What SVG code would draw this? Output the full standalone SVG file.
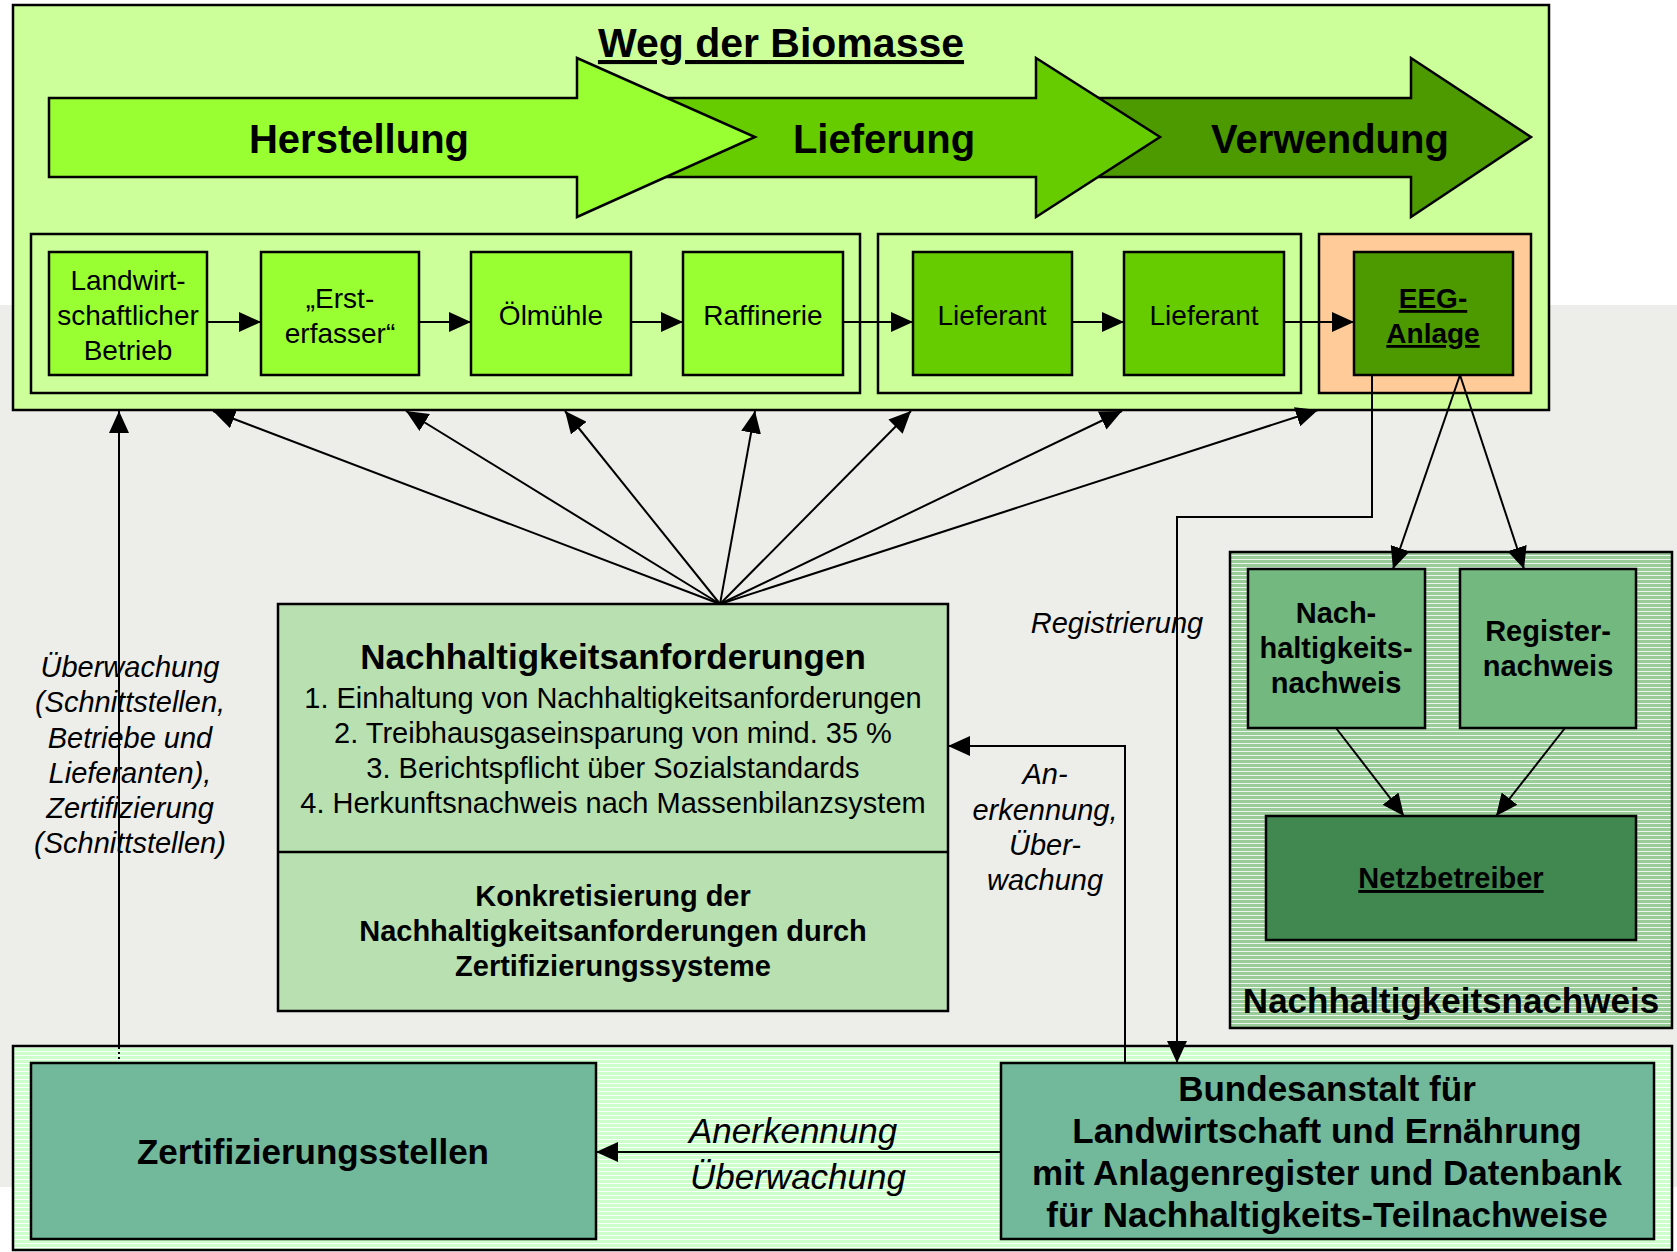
<svg xmlns="http://www.w3.org/2000/svg" width="1677" height="1252" viewBox="0 0 1677 1252">
<defs>
<style>
text{font-family:"Liberation Sans",Arial,Helvetica,sans-serif;fill:#000}
.bx{stroke:#000;stroke-width:2.5}
.c{text-anchor:middle}
.f28{font-size:28px}
.f29{font-size:29px}
.f35{font-size:35px}
.f40{font-size:40px}
.b{font-weight:bold}
.i{font-style:italic}
.u{text-decoration:underline}
.ln{fill:none;stroke:#000;stroke-width:2}
.ah{marker-end:url(#ah)}
.g1{fill:#99ff33}
.g2{fill:#66cc00}
.g3{fill:#4c9900}
.lg{fill:#ccff99}
</style>
<marker id="ah" markerUnits="userSpaceOnUse" markerWidth="22" markerHeight="20" refX="22" refY="10" orient="auto"><path d="M0,0 L22,10 L0,20 z" fill="#000"/></marker>
<pattern id="hatchA" width="8" height="4" patternUnits="userSpaceOnUse"><rect width="8" height="4" fill="#99cc99"/><rect y="3" width="8" height="1" fill="#ffffff" opacity="0.8"/></pattern>
<pattern id="hatchB" width="8" height="4" patternUnits="userSpaceOnUse"><rect width="8" height="4" fill="#ccffcc"/><rect y="3" width="8" height="1" fill="#ffffff" opacity="0.9"/></pattern>
</defs>

<rect x="0" y="0" width="1677" height="1252" fill="#ffffff"/>
<rect x="0" y="305" width="1677" height="882" fill="#ededea"/>

<g id="weg-der-biomasse">
<rect x="13" y="5" width="1536" height="405" class="bx lg"/>
<text x="781" y="57" class="c b u" style="font-size:41px">Weg der Biomasse</text>
</g>

<g id="phase-verwendung">
<path d="M1050,98 L1411,98 L1411,58 L1531,137 L1411,217 L1411,177 L1050,177 z" class="bx g3" stroke-width="2"/>
<text x="1330" y="153" class="c b f40">Verwendung</text>
</g>
<g id="phase-lieferung">
<path d="M600,98 L1036,98 L1036,58 L1160,137 L1036,217 L1036,177 L600,177 z" class="bx g2" stroke-width="2"/>
<text x="884" y="153" class="c b f40">Lieferung</text>
</g>
<g id="phase-herstellung">
<path d="M49,98 L577,98 L577,58 L755,137 L577,217 L577,177 L49,177 z" class="bx g1" stroke-width="2"/>
<text x="359" y="153" class="c b f40">Herstellung</text>
</g>

<g id="gruppe-herstellung"><rect x="31" y="234" width="829" height="159" class="bx lg"/></g>
<g id="gruppe-lieferung"><rect x="878" y="234" width="423" height="159" class="bx lg"/></g>
<g id="gruppe-verwendung"><rect x="1319" y="234" width="212" height="159" class="bx" fill="#ffcc99"/></g>

<g id="landwirtschaftlicher-betrieb">
<rect x="49" y="252" width="158" height="123" class="bx g1"/>
<text class="c f28"><tspan x="128" y="290">Landwirt-</tspan><tspan x="128" y="325">schaftlicher</tspan><tspan x="128" y="360">Betrieb</tspan></text>
</g>
<g id="ersterfasser">
<rect x="261" y="252" width="158" height="123" class="bx g1"/>
<text class="c f28"><tspan x="340" y="308">„Erst-</tspan><tspan x="340" y="343">erfasser“</tspan></text>
</g>
<g id="oelmuehle">
<rect x="471" y="252" width="160" height="123" class="bx g1"/>
<text x="551" y="325" class="c f28">Ölmühle</text>
</g>
<g id="raffinerie">
<rect x="683" y="252" width="160" height="123" class="bx g1"/>
<text x="763" y="325" class="c f28">Raffinerie</text>
</g>
<g id="lieferant-1">
<rect x="913" y="252" width="159" height="123" class="bx g2"/>
<text x="992" y="325" class="c f28">Lieferant</text>
</g>
<g id="lieferant-2">
<rect x="1124" y="252" width="160" height="123" class="bx g2"/>
<text x="1204" y="325" class="c f28">Lieferant</text>
</g>
<g id="eeg-anlage">
<rect x="1354" y="252" width="159" height="123" class="bx g3"/>
<text class="c b u f28"><tspan x="1433" y="308">EEG-</tspan><tspan x="1433" y="343">Anlage</tspan></text>
</g>

<g id="nachhaltigkeitsanforderungen">
<rect x="278" y="604" width="670" height="407" class="bx" fill="#b9e0b0"/>
<line x1="278" y1="852" x2="948" y2="852" stroke="#000" stroke-width="2.5"/>
<text x="613" y="669" class="c b f35">Nachhaltigkeitsanforderungen</text>
<text class="c f29"><tspan x="613" y="708">1. Einhaltung von Nachhaltigkeitsanforderungen</tspan><tspan x="613" y="743">2. Treibhausgaseinsparung von mind. 35 %</tspan><tspan x="613" y="778">3. Berichtspflicht über Sozialstandards</tspan><tspan x="613" y="813">4. Herkunftsnachweis nach Massenbilanzsystem</tspan></text>
<text class="c b f29"><tspan x="613" y="906">Konkretisierung der</tspan><tspan x="613" y="941">Nachhaltigkeitsanforderungen durch</tspan><tspan x="613" y="976">Zertifizierungssysteme</tspan></text>
</g>

<g id="nachhaltigkeitsnachweis">
<rect x="1230" y="552" width="442" height="476" class="bx" fill="url(#hatchA)"/>
<text x="1451" y="1013" class="c b f35">Nachhaltigkeitsnachweis</text>
</g>
<g id="nachhaltigkeits-nachweis-box">
<rect x="1248" y="569" width="177" height="159" class="bx" fill="#73b87e"/>
<text class="c b f29"><tspan x="1336" y="623">Nach-</tspan><tspan x="1336" y="658">haltigkeits-</tspan><tspan x="1336" y="693">nachweis</tspan></text>
</g>
<g id="registernachweis">
<rect x="1460" y="569" width="176" height="159" class="bx" fill="#73b87e"/>
<text class="c b f29"><tspan x="1548" y="641">Register-</tspan><tspan x="1548" y="676">nachweis</tspan></text>
</g>
<g id="netzbetreiber">
<rect x="1266" y="816" width="370" height="124" class="bx" fill="#408850"/>
<text x="1451" y="888" class="c b u f29">Netzbetreiber</text>
</g>

<g id="behoerden">
<rect x="13" y="1046" width="1659" height="204" class="bx" fill="url(#hatchB)"/>
</g>
<g id="zertifizierungsstellen">
<rect x="31" y="1063" width="565" height="176" class="bx" fill="#72b89a"/>
<text x="313" y="1164" class="c b f35">Zertifizierungsstellen</text>
</g>
<g id="bundesanstalt">
<rect x="1001" y="1063" width="653" height="176" class="bx" fill="#72b89a"/>
<text class="c b f35"><tspan x="1327" y="1101">Bundesanstalt für</tspan><tspan x="1327" y="1143">Landwirtschaft und Ernährung</tspan><tspan x="1327" y="1185">mit Anlagenregister und Datenbank</tspan><tspan x="1327" y="1227">für Nachhaltigkeits-Teilnachweise</tspan></text>
</g>

<g id="connectors">
<line x1="207" y1="322" x2="261" y2="322" class="ln ah"/>
<line x1="419" y1="322" x2="471" y2="322" class="ln ah"/>
<line x1="631" y1="322" x2="683" y2="322" class="ln ah"/>
<line x1="843" y1="322" x2="913" y2="322" class="ln ah"/>
<line x1="1072" y1="322" x2="1124" y2="322" class="ln ah"/>
<line x1="1284" y1="322" x2="1354" y2="322" class="ln ah"/>

<line x1="720" y1="604" x2="213" y2="411" class="ln ah"/>
<line x1="720" y1="604" x2="406" y2="411" class="ln ah"/>
<line x1="720" y1="604" x2="565" y2="411" class="ln ah"/>
<line x1="720" y1="604" x2="755" y2="411" class="ln ah"/>
<line x1="720" y1="604" x2="911" y2="411" class="ln ah"/>
<line x1="720" y1="604" x2="1122" y2="411" class="ln ah"/>
<line x1="720" y1="604" x2="1318" y2="410" class="ln ah"/>

<line x1="119" y1="1046" x2="119" y2="411" class="ln ah"/>
<line x1="119" y1="1047" x2="119" y2="1063" stroke="#000" stroke-width="2" stroke-dasharray="2,3"/>

<line x1="1460" y1="375" x2="1393" y2="569" class="ln ah"/>
<line x1="1460" y1="375" x2="1524" y2="569" class="ln ah"/>
<line x1="1336" y1="728" x2="1404" y2="816" class="ln ah"/>
<line x1="1565" y1="728" x2="1496" y2="816" class="ln ah"/>

<polyline points="1372,375 1372,517 1177,517 1177,1063" class="ln ah"/>
<polyline points="1125,1063 1125,746 948,746" class="ln ah"/>
<line x1="1001" y1="1152" x2="596" y2="1152" class="ln ah"/>
</g>

<g id="labels">
<text class="c i f29"><tspan x="130" y="677">Überwachung</tspan><tspan x="130" y="712">(Schnittstellen,</tspan><tspan x="130" y="748">Betriebe und</tspan><tspan x="130" y="783">Lieferanten),</tspan><tspan x="130" y="818">Zertifizierung</tspan><tspan x="130" y="853">(Schnittstellen)</tspan></text>
<text x="1117" y="633" class="c i f29">Registrierung</text>
<text class="c i f29"><tspan x="1045" y="784">An-</tspan><tspan x="1045" y="820">erkennung,</tspan><tspan x="1045" y="855">Über-</tspan><tspan x="1045" y="890">wachung</tspan></text>
<text class="i f35"><tspan x="689" y="1143">Anerkennung</tspan><tspan x="690" y="1189">Überwachung</tspan></text>
</g>
</svg>
